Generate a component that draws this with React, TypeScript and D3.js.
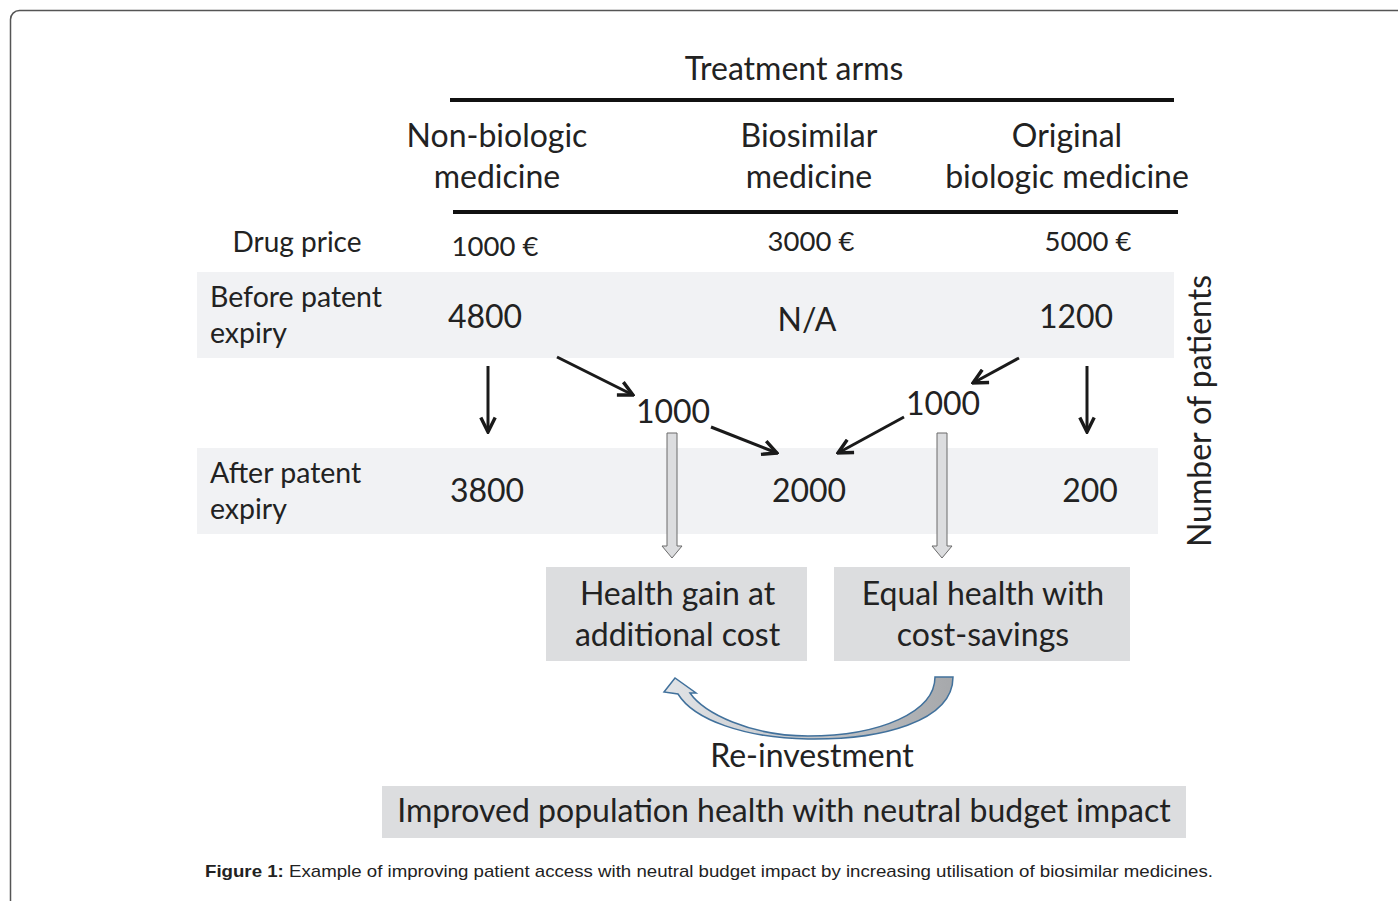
import React, { useRef, useEffect } from 'react';
import * as d3 from 'd3';

// data
const arms = ['Non-biologic medicine', 'Biosimilar medicine', 'Original biologic medicine'];
const armLines = [['Non-biologic', 'medicine'], ['Biosimilar', 'medicine'], ['Original', 'biologic medicine']];
const prices = ['1000 €', '3000 €', '5000 €'];
const beforeExpiry = ['4800', 'N/A', '1200'];
const afterExpiry = ['3800', '2000', '200'];
const switchedPatients = ['1000', '1000'];
const outcomes = [['Health gain at', 'additional cost'], ['Equal health with', 'cost-savings']];

const W = 1398;
const H = 901;
const FONT = 'Lato, "Open Sans", sans-serif';

const drawDiagram = (svg: d3.Selection<SVGSVGElement, unknown, null, undefined>): void => {
    svg.selectAll('*').remove();

    // column centres
    const col = d3.scaleOrdinal<string, number>().domain(arms).range([490, 809, 1080]);

    // frame
    svg.append('rect')
        .attr('x', 10.5).attr('y', 10.5)
        .attr('width', W + 40).attr('height', H + 40)
        .attr('rx', 9)
        .attr('fill', 'none')
        .attr('stroke', '#555')
        .attr('stroke-width', 1.5);

    const defs = svg.append('defs');
    defs.append('marker')
        .attr('id', 'head')
        .attr('viewBox', '0 0 10 10')
        .attr('refX', 9).attr('refY', 5)
        .attr('markerWidth', 6).attr('markerHeight', 6)
        .attr('markerUnits', 'strokeWidth')
        .attr('orient', 'auto')
        .append('path')
        .attr('d', 'M1,1 L9,5 L1,9')
        .attr('fill', 'none')
        .attr('stroke', '#1a1a1a')
        .attr('stroke-width', 1.9);

    const grad = defs.append('linearGradient')
        .attr('id', 'curveFill')
        .attr('x1', '100%').attr('x2', '0%').attr('y1', '0').attr('y2', '0');
    grad.append('stop').attr('offset', '0%').attr('stop-color', '#a6a8ab');
    grad.append('stop').attr('offset', '100%').attr('stop-color', '#e2e4e7');

    const txt = (x: number, y: number, s: string, size = 32, anchor = 'middle') =>
        svg.append('text')
            .attr('x', x).attr('y', y)
            .attr('text-anchor', anchor)
            .attr('font-family', FONT)
            .attr('font-size', size)
            .attr('fill', '#222')
            .text(s);

    // header
    txt(794, 80, 'Treatment arms');
    svg.append('line').attr('x1', 450).attr('x2', 1174).attr('y1', 100).attr('y2', 100)
        .attr('stroke', '#111').attr('stroke-width', 4);
    const headDx = [7, 0, -13];
    armLines.forEach((lines, i) => {
        lines.forEach((l, j) => txt(col(arms[i]) + headDx[i], 147 + j * 41, l));
    });
    svg.append('line').attr('x1', 453).attr('x2', 1178).attr('y1', 212).attr('y2', 212)
        .attr('stroke', '#111').attr('stroke-width', 4);

    // prices
    txt(297, 252, 'Drug price', 28);
    const priceDx = [5, 2, 8];
    const priceY = [256, 251, 251];
    prices.forEach((p, i) => txt(col(arms[i]) + priceDx[i], priceY[i], p, 27.5));

    // bands
    svg.append('rect').attr('x', 197).attr('y', 272).attr('width', 977).attr('height', 86).attr('fill', '#f1f2f4');
    svg.append('rect').attr('x', 197).attr('y', 448).attr('width', 961).attr('height', 86).attr('fill', '#f1f2f4');

    txt(210, 307, 'Before patent', 28.5, 'start');
    txt(210, 343, 'expiry', 28.5, 'start');
    txt(210, 483, 'After patent', 28.5, 'start');
    txt(210, 519, 'expiry', 28.5, 'start');

    const beforeDx = [-5, -2, -4];
    const beforeY = [328, 331, 328];
    beforeExpiry.forEach((v, i) => txt(col(arms[i]) + beforeDx[i], beforeY[i], v));
    const afterDx = [-3, 0, 10];
    afterExpiry.forEach((v, i) => txt(col(arms[i]) + afterDx[i], 502, v));

    // switched patients labels
    const switchX = [673, 943];
    const switchY = [423, 415];
    switchedPatients.forEach((v, i) => txt(switchX[i], switchY[i], v));

    // black arrows
    const arrows: [number, number, number, number][] = [
        [488, 366, 488, 432],
        [557, 357, 633, 395],
        [711, 427, 777, 453],
        [1019, 358, 973, 383],
        [904, 417, 838, 453],
        [1087, 366, 1087, 432],
    ];
    svg.selectAll('line.flow')
        .data(arrows)
        .enter().append('line')
        .attr('class', 'flow')
        .attr('x1', d => d[0]).attr('y1', d => d[1])
        .attr('x2', d => d[2]).attr('y2', d => d[3])
        .attr('stroke', '#1a1a1a')
        .attr('stroke-width', 3)
        .attr('marker-end', 'url(#head)');

    // hollow block arrows
    switchX.forEach((x) => {
        const cx = x - 1;
        const p = d3.path();
        p.moveTo(cx - 5, 433);
        p.lineTo(cx + 5, 433);
        p.lineTo(cx + 5, 546);
        p.lineTo(cx + 10, 546);
        p.lineTo(cx, 558);
        p.lineTo(cx - 10, 546);
        p.lineTo(cx - 5, 546);
        p.closePath();
        svg.append('path').attr('d', p.toString())
            .attr('fill', '#dcdddf').attr('stroke', '#6b6b6b').attr('stroke-width', 1);
    });

    // outcome boxes
    const boxes = [[546, 261], [834, 296]];
    outcomes.forEach((lines, i) => {
        const [bx, bw] = boxes[i];
        svg.append('rect').attr('x', bx).attr('y', 567).attr('width', bw).attr('height', 94).attr('fill', '#dcdddf');
        lines.forEach((l, j) => txt(bx + bw / 2 + 1, 605 + j * 41, l));
    });

    // re-investment curved arrow
    const c = d3.path();
    c.moveTo(935, 677);
    c.lineTo(953, 677);
    c.bezierCurveTo(953, 722, 880, 740, 808, 739);
    c.bezierCurveTo(745, 738, 694, 720, 678, 694);
    c.lineTo(664, 692);
    c.lineTo(675, 678);
    c.lineTo(696, 693);
    c.lineTo(690, 693);
    c.bezierCurveTo(704, 713, 750, 736, 808, 736);
    c.bezierCurveTo(880, 736, 935, 712, 935, 677);
    c.closePath();
    svg.append('path').attr('d', c.toString())
        .attr('fill', 'url(#curveFill)')
        .attr('stroke', '#41719c')
        .attr('stroke-width', 1.5)
        .attr('stroke-linejoin', 'miter');

    txt(812, 767, 'Re-investment');

    // bottom banner
    svg.append('rect').attr('x', 382).attr('y', 786).attr('width', 804).attr('height', 52).attr('fill', '#dcdddf');
    txt(784, 822, 'Improved population health with neutral budget impact');

    // number of patients
    svg.append('text')
        .attr('transform', 'translate(1211,411) rotate(-90)')
        .attr('text-anchor', 'middle')
        .attr('font-family', FONT)
        .attr('font-size', 32)
        .attr('fill', '#222')
        .text('Number of patients');

    // caption
    const cap = svg.append('text')
        .attr('x', 205).attr('y', 877)
        .attr('font-family', '"Liberation Sans", Arial, sans-serif')
        .attr('font-size', 17)
        .attr('fill', '#222')
        .attr('textLength', 1008)
        .attr('lengthAdjust', 'spacingAndGlyphs');
    cap.append('tspan').attr('font-weight', 'bold').text('Figure 1:');
    cap.append('tspan').text(' Example of improving patient access with neutral budget impact by increasing utilisation of biosimilar medicines.');
};

const App: React.FC = () => {
    const ref = useRef<SVGSVGElement>(null);

    useEffect(() => {
        if (ref.current) {
            drawDiagram(d3.select(ref.current));
        }
    }, []);

    return (
        <svg
            ref={ref}
            width={W}
            height={H}
            style={{ position: 'absolute', left: 0, top: 0, background: '#fff' }}
        />
    );
};

export default App;
